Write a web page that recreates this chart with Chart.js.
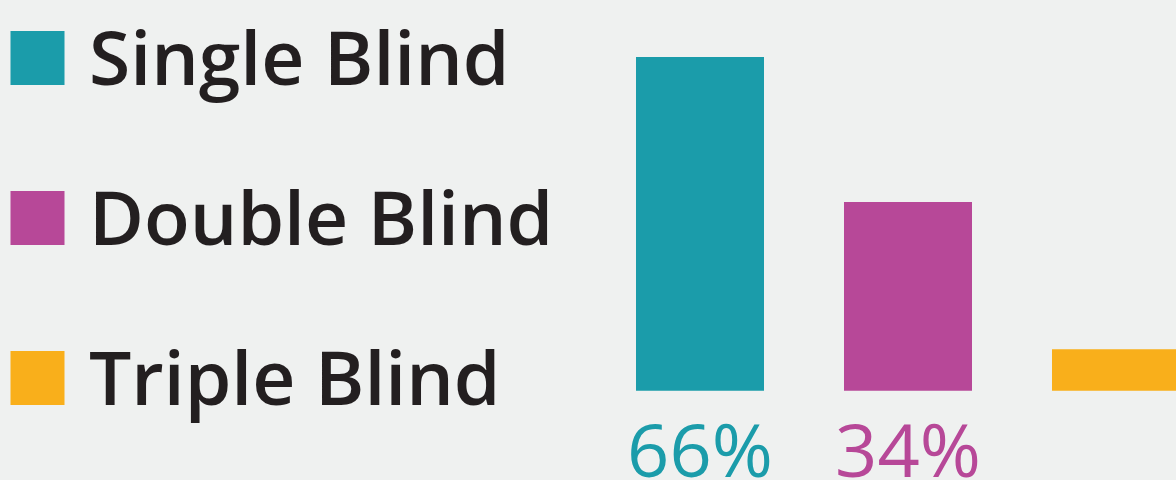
<!DOCTYPE html>
<html>
<head>
<meta charset="utf-8">
<title>Blinding</title>
<script src="https://cdn.jsdelivr.net/npm/chart.js@4.4.1/dist/chart.umd.min.js"></script>
<style>
    html, body { margin: 0; padding: 0; background: #eff1f0; overflow: hidden; }
    #wrap { position: absolute; left: 0; top: 0; width: 1220px; height: 480px; }
</style>
</head>
<body>
<div id="wrap"><canvas id="blindChart" width="1220" height="480"></canvas></div>
<script>
// values
const categories = ['Single Blind', 'Double Blind', 'Triple Blind'];
const shares = [66, 34, 1.5];
const valueLabels = ['66%', '34%', ''];
const barColors = ['#1b9caa', '#b74898', '#f9af1b'];
const inkColor = '#231f20';

// legend on the left + percentages under the bars
const sideLegend = {
    id: 'sideLegend',
    afterDatasetsDraw(chart) {
        const ctx = chart.ctx;
        ctx.save();
        ctx.textBaseline = 'alphabetic';
        ctx.textAlign = 'left';
        ctx.font = '600 75px "Open Sans"';
        categories.forEach((name, i) => {
            const baseline = 85 + i * 160;
            ctx.fillStyle = barColors[i];
            ctx.fillRect(10.5, baseline - 54, 54, 54);
            ctx.fillStyle = inkColor;
            ctx.fillText(name, 89, baseline);
        });

        const meta = chart.getDatasetMeta(0);
        const yScale = chart.scales.y;
        const bottom = yScale.getPixelForValue(chart.data.datasets[0].base);
        ctx.textAlign = 'center';
        ctx.font = '500 74px "Open Sans"';
        meta.data.forEach((bar, i) => {
            if (!valueLabels[i]) return;
            ctx.fillStyle = barColors[i];
            ctx.fillText(valueLabels[i], bar.x, bottom + 86);
        });
        ctx.restore();
    }
};

const chart = new Chart(document.getElementById('blindChart'), {
    type: 'bar',
    data: {
        labels: categories,
        datasets: [{
            data: shares,
            base: -7.7,
            backgroundColor: barColors,
            borderWidth: 0,
            barPercentage: 1,
            categoryPercentage: 0.6154
        }]
    },
    options: {
        responsive: false,
        animation: false,
        layout: { padding: { left: 596, right: 0, top: 0, bottom: 0 } },
        plugins: {
            legend: { display: false },
            tooltip: { enabled: false }
        },
        scales: {
            x: { display: false, offset: true },
            y: { display: false, min: -27.4, max: 78.6 }
        }
    },
    plugins: [sideLegend]
});
</script>
</body>
</html>
